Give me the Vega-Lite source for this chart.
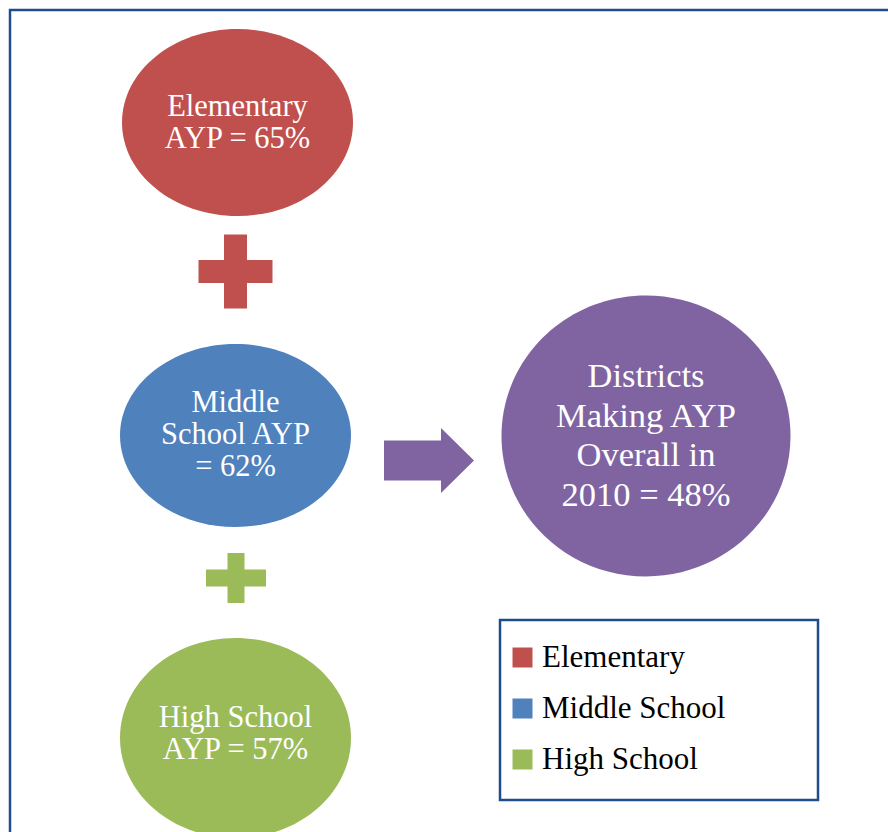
{
  "$schema": "https://vega.github.io/schema/vega-lite/v6.json",
  "width": 888,
  "height": 832,
  "padding": 0,
  "autosize": {"type": "none"},
  "background": "white",
  "config": {"view": {"stroke": null}},
  "resolve": {"scale": {"shape": "independent"}, "legend": {"shape": "independent"}},
  "datasets": {
    "frames": [
      {"box": "outer", "x": 10, "y": 10, "x2": 900, "y2": 850},
      {"box": "legend", "x": 500, "y": 620, "x2": 818, "y2": 800}
    ],
    "nodes": [
      {"name": "Elementary", "label": "Elementary\nAYP = 65%", "x": 237.5, "y": 122.5, "labelY": 107},
      {"name": "Middle School", "label": "Middle\nSchool AYP\n= 62%", "x": 235.5, "y": 435.5, "labelY": 403},
      {"name": "High School", "label": "High School\nAYP = 57%", "x": 235.5, "y": 738, "labelY": 718},
      {"name": "Overall", "label": "Districts\nMaking AYP\nOverall in\n2010 = 48%", "x": 646, "y": 436, "labelY": 377}
    ],
    "connectors": [
      {"kind": "plus", "name": "Elementary", "x": 235.5, "y": 271.5},
      {"kind": "small plus", "name": "High School", "x": 236, "y": 578},
      {"kind": "arrow", "name": "Overall", "x": 429, "y": 460.5}
    ]
  },
  "layer": [
    {
      "data": {"name": "frames"},
      "mark": {"type": "rect", "fill": "transparent", "stroke": "#1f4d89", "strokeWidth": 2.5},
      "encoding": {
        "x": {"field": "x", "type": "quantitative", "scale": {"domain": [0, 888], "nice": false, "zero": false}, "axis": null},
        "x2": {"field": "x2"},
        "y": {"field": "y", "type": "quantitative", "scale": {"domain": [0, 832], "nice": false, "zero": false, "reverse": true}, "axis": null},
        "y2": {"field": "y2"}
      }
    },
    {
      "data": {"name": "nodes"},
      "mark": {"type": "point", "filled": true, "opacity": 1, "strokeWidth": 0, "size": 40000},
      "encoding": {
        "x": {"field": "x", "type": "quantitative"},
        "y": {"field": "y", "type": "quantitative"},
        "shape": {
          "field": "name", "type": "nominal", "legend": null,
          "scale": {
            "domain": ["Elementary", "Middle School", "High School", "Overall"],
            "range": [
              "M -1.155 0 A 1.155 0.935 0 1 1 1.155 0 A 1.155 0.935 0 1 1 -1.155 0 Z",
              "M -1.155 0 A 1.155 0.915 0 1 1 1.155 0 A 1.155 0.915 0 1 1 -1.155 0 Z",
              "M -1.155 0 A 1.155 1.0 0 1 1 1.155 0 A 1.155 1.0 0 1 1 -1.155 0 Z",
              "M -1.445 0 A 1.445 1.405 0 1 1 1.445 0 A 1.445 1.405 0 1 1 -1.445 0 Z"
            ]
          }
        },
        "color": {
          "field": "name", "type": "nominal",
          "scale": {
            "domain": ["Elementary", "Middle School", "High School", "Overall"],
            "range": ["#C0504D", "#4F81BD", "#9BBB59", "#8064A2"]
          },
          "legend": {
            "values": ["Elementary", "Middle School", "High School"],
            "title": null,
            "orient": "none",
            "legendX": 507,
            "legendY": 642,
            "padding": 0,
            "symbolType": "square",
            "symbolSize": 400,
            "symbolStrokeWidth": 0,
            "symbolOpacity": 1,
            "labelFont": "Liberation Serif",
            "labelFontSize": 31,
            "labelColor": "#000000",
            "labelOffset": 4,
            "labelLimit": 400,
            "rowPadding": 19
          }
        }
      }
    },
    {
      "data": {"name": "connectors"},
      "mark": {"type": "point", "filled": true, "opacity": 1, "strokeWidth": 0, "size": 10000},
      "encoding": {
        "x": {"field": "x", "type": "quantitative"},
        "y": {"field": "y", "type": "quantitative"},
        "shape": {
          "field": "kind", "type": "nominal", "legend": null,
          "scale": {
            "domain": ["plus", "small plus", "arrow"],
            "range": [
              "M -0.23 -0.74 L 0.23 -0.74 L 0.23 -0.23 L 0.74 -0.23 L 0.74 0.23 L 0.23 0.23 L 0.23 0.74 L -0.23 0.74 L -0.23 0.23 L -0.74 0.23 L -0.74 -0.23 L -0.23 -0.23 Z",
              "M -0.17 -0.5 L 0.17 -0.5 L 0.17 -0.17 L 0.6 -0.17 L 0.6 0.17 L 0.17 0.17 L 0.17 0.5 L -0.17 0.5 L -0.17 0.17 L -0.6 0.17 L -0.6 -0.17 L -0.17 -0.17 Z",
              "M -0.9 -0.4 L 0.24 -0.4 L 0.24 -0.65 L 0.9 0 L 0.24 0.65 L 0.24 0.4 L -0.9 0.4 Z"
            ]
          }
        },
        "color": {"field": "name", "type": "nominal"}
      }
    },
    {
      "data": {"name": "nodes"},
      "transform": [{"filter": "datum.name !== 'Overall'"}],
      "mark": {"type": "text", "font": "Liberation Serif", "fontSize": 30.5, "lineHeight": 32, "lineBreak": "\n", "color": "white", "align": "center", "baseline": "middle"},
      "encoding": {
        "x": {"field": "x", "type": "quantitative"},
        "y": {"field": "labelY", "type": "quantitative"},
        "text": {"field": "label"}
      }
    },
    {
      "data": {"name": "nodes"},
      "transform": [{"filter": "datum.name === 'Overall'"}],
      "mark": {"type": "text", "font": "Liberation Serif", "fontSize": 34.5, "lineHeight": 39.7, "lineBreak": "\n", "color": "white", "align": "center", "baseline": "middle"},
      "encoding": {
        "x": {"field": "x", "type": "quantitative"},
        "y": {"field": "labelY", "type": "quantitative"},
        "text": {"field": "label"}
      }
    }
  ]
}
